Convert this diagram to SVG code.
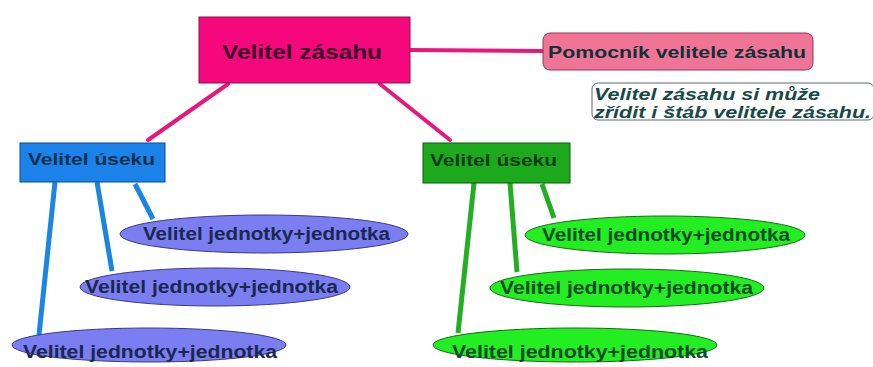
<svg xmlns="http://www.w3.org/2000/svg" width="873" height="367" viewBox="0 0 873 367">
<style>
text{font-family:"Liberation Sans",Arial,sans-serif;font-weight:bold}
.pk{stroke:#e8187a;stroke-width:4;fill:none;stroke-linecap:round}
.bl{stroke:#1a86e0;stroke-width:5;fill:none}
.gr{stroke:#22b022;stroke-width:5;fill:none}
.eb{fill:#7b7ef0;stroke:#3a3a8a;stroke-width:1}
.eg{fill:#22ee22;stroke:#1a6a1a;stroke-width:1}
.tb{fill:#1a2850;font-size:18px}
.tg{fill:#0e4a28;font-size:18px}
</style>
<rect width="873" height="367" fill="#ffffff"/>
<g id="connectors">
<line class="pk" x1="411" y1="50" x2="543" y2="51"/>
<line class="pk" x1="228" y1="84" x2="148" y2="140"/>
<line class="pk" x1="380" y1="84" x2="450" y2="140"/>
<line class="bl" x1="55" y1="182" x2="39" y2="335"/>
<line class="bl" x1="97" y1="182" x2="112" y2="271"/>
<line class="bl" x1="135" y1="184" x2="153" y2="219"/>
<line class="gr" x1="474" y1="183" x2="458" y2="333"/>
<line class="gr" x1="510" y1="183" x2="517" y2="272"/>
<line class="gr" x1="542" y1="184" x2="554" y2="218"/>
</g>
<g id="velitel-zasahu">
<rect x="199" y="17" width="211" height="66" fill="#f5087c" stroke="#8a1050" stroke-width="1"/>
<text x="222" y="59" font-size="21" fill="#3a0828" textLength="160" lengthAdjust="spacingAndGlyphs">Velitel zásahu</text>
</g>
<g id="pomocnik">
<rect x="543" y="33" width="270" height="37" rx="7" fill="#ef7496" stroke="#8a3a58" stroke-width="1"/>
<text x="548" y="58" font-size="17" fill="#10303a" textLength="258" lengthAdjust="spacingAndGlyphs">Pomocník velitele zásahu</text>
</g>
<g id="poznamka">
<rect x="592" y="83" width="282" height="37" rx="6" fill="#ffffff" stroke="#5a6a70" stroke-width="1"/>
<text x="594" y="100" font-size="17" font-style="italic" fill="#184848" textLength="226" lengthAdjust="spacingAndGlyphs">Velitel zásahu si může</text>
<text x="594" y="118" font-size="17" font-style="italic" fill="#184848" textLength="277" lengthAdjust="spacingAndGlyphs">zřídit i štáb velitele zásahu.</text>
</g>
<g id="usek-levy">
<rect x="20" y="143" width="145" height="39" fill="#1a82e8" stroke="#0a4a90" stroke-width="1"/>
<text x="28" y="165" font-size="16" fill="#10304a" textLength="127" lengthAdjust="spacingAndGlyphs">Velitel úseku</text>
</g>
<g id="usek-pravy">
<rect x="423" y="143" width="147" height="40" fill="#1caa1c" stroke="#0a5a0a" stroke-width="1"/>
<text x="430" y="166" font-size="16" fill="#0a3a1a" textLength="127" lengthAdjust="spacingAndGlyphs">Velitel úseku</text>
</g>
<g id="jednotka-l1">
<ellipse class="eb" cx="264" cy="234" rx="144" ry="19"/>
<text class="tb" x="143" y="240" textLength="247" lengthAdjust="spacingAndGlyphs">Velitel jednotky+jednotka</text>
</g>
<g id="jednotka-l2">
<ellipse class="eb" cx="215" cy="287" rx="135" ry="19"/>
<text class="tb" x="85" y="293" textLength="253" lengthAdjust="spacingAndGlyphs">Velitel jednotky+jednotka</text>
</g>
<g id="jednotka-l3">
<ellipse class="eb" cx="149" cy="345" rx="137" ry="17"/>
<text class="tb" x="23" y="358" textLength="254" lengthAdjust="spacingAndGlyphs">Velitel jednotky+jednotka</text>
</g>
<g id="jednotka-p1">
<ellipse class="eg" cx="665" cy="235" rx="140" ry="19"/>
<text class="tg" x="542" y="241" textLength="248" lengthAdjust="spacingAndGlyphs">Velitel jednotky+jednotka</text>
</g>
<g id="jednotka-p2">
<ellipse class="eg" cx="627" cy="288" rx="137" ry="19"/>
<text class="tg" x="500" y="294" textLength="253" lengthAdjust="spacingAndGlyphs">Velitel jednotky+jednotka</text>
</g>
<g id="jednotka-p3">
<ellipse class="eg" cx="575" cy="345" rx="142" ry="17"/>
<text class="tg" x="452" y="358" textLength="256" lengthAdjust="spacingAndGlyphs">Velitel jednotky+jednotka</text>
</g>
</svg>
